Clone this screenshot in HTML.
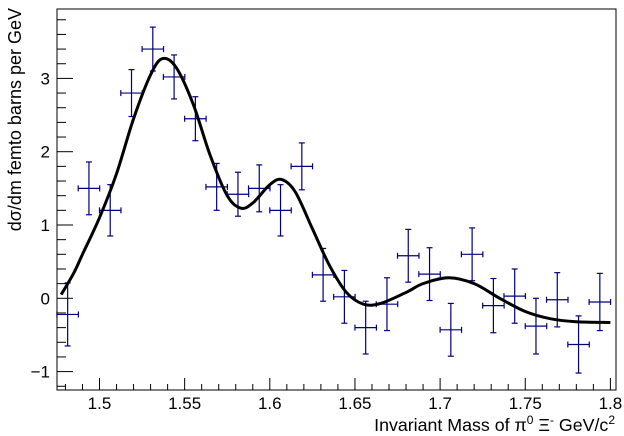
<!DOCTYPE html>
<html><head><meta charset="utf-8"><style>
html,body{margin:0;padding:0;background:#fff;width:624px;height:436px;overflow:hidden}
svg{display:block;font-family:"Liberation Sans",sans-serif}
</style></head><body>
<svg id="s" width="624" height="436" xmlns="http://www.w3.org/2000/svg">
<rect x="0" y="0" width="624" height="436" fill="#fff"/>
<g id="g"></g>
<rect x="57" y="9" width="559" height="381" fill="none" stroke="#000" stroke-width="1"/>
<text x="0" y="0" font-size="18" text-anchor="end" transform="translate(21,8) rotate(-90)">dσ/dm femto barns per GeV</text>
<text x="615" y="431" font-size="17.8" text-anchor="end">Invariant Mass of π<tspan dy="-7" font-size="12">0</tspan><tspan dy="7"> Ξ</tspan><tspan dy="-7" font-size="12">-</tspan><tspan dy="7"> GeV/c</tspan><tspan dy="-7" font-size="12">2</tspan></text>
</svg>
<script>
var g=document.getElementById('g');
function X(v){return 99.5+(v-1.5)*1703}
function Y(v){return 298.3-v*73.3}
var h='';
for(var i=0;i<=33;i++){var v=1.48+i*0.01;if(v>1.8035)break;var px=X(v);var maj=Math.abs((v*100)%5)<0.01||Math.abs((v*100)%5-5)<0.01;
h+='<line x1="'+px+'" y1="390" x2="'+px+'" y2="'+(maj?378:384)+'" stroke="#000"/>';
if(maj){h+='<text x="'+px+'" y="409" font-size="17" text-anchor="middle">'+(Math.round(v*100)/100)+'</text>';}}
for(var i=-6;i<=19;i++){var v=i*0.2;var py=Y(v);if(py<9||py>390)continue;var maj=(i%5==0);
h+='<line x1="57" y1="'+py+'" x2="'+(maj?73:66)+'" y2="'+py+'" stroke="#000"/>';
if(maj){h+='<text x="50" y="'+(py+6)+'" font-size="17" text-anchor="end">'+(i==-5?'\u22121':(i/5))+'</text>';}}
var d=[[1.4813,-0.22,0.43],[1.4938,1.5,0.36],[1.5063,1.2,0.35],[1.5188,2.8,0.32],[1.5313,3.4,0.3],[1.5438,3.02,0.3],[1.5563,2.45,0.3],[1.5688,1.52,0.32],[1.5813,1.42,0.3],[1.5938,1.5,0.32],[1.6063,1.2,0.35],[1.6188,1.8,0.32],[1.6313,0.32,0.36],[1.6438,0.02,0.36],[1.6563,-0.4,0.36],[1.6688,-0.08,0.36],[1.6813,0.58,0.36],[1.6938,0.33,0.36],[1.7063,-0.43,0.36],[1.7188,0.6,0.36],[1.7313,-0.1,0.37],[1.7438,0.03,0.37],[1.7563,-0.38,0.38],[1.7688,-0.02,0.37],[1.7813,-0.63,0.39],[1.7938,-0.05,0.39]];
d.forEach(function(p){var x=X(p[0]),y=Y(p[1]),xl=X(p[0]-0.0063),xr=Math.min(X(p[0]+0.0063),616),yt=Y(p[1]+p[2]),yb=Y(p[1]-p[2]);
h+='<g stroke="#000080" stroke-width="1.2"><line x1="'+xl+'" y1="'+y+'" x2="'+xr+'" y2="'+y+'"/><line x1="'+x+'" y1="'+yt+'" x2="'+x+'" y2="'+yb+'"/>'+
'<line x1="'+xl+'" y1="'+(y-3)+'" x2="'+xl+'" y2="'+(y+3)+'"/>'+(xr<616?'<line x1="'+xr+'" y1="'+(y-3)+'" x2="'+xr+'" y2="'+(y+3)+'"/>':'')+
'<line x1="'+(x-3)+'" y1="'+yt+'" x2="'+(x+3)+'" y2="'+yt+'"/><line x1="'+(x-3)+'" y1="'+yb+'" x2="'+(x+3)+'" y2="'+yb+'"/></g>';});
var c=[[1.4775,0.05],[1.485,0.35],[1.49,0.6],[1.5,1.1],[1.51,1.7],[1.52,2.45],[1.53,3.05],[1.537,3.27],[1.545,3.15],[1.555,2.65],[1.565,1.95],[1.575,1.4],[1.583,1.23],[1.59,1.3],[1.6,1.55],[1.607,1.62],[1.615,1.45],[1.625,0.95],[1.635,0.45],[1.645,0.08],[1.655,-0.08],[1.665,-0.07],[1.68,0.08],[1.69,0.2],[1.705,0.28],[1.72,0.2],[1.735,0.0],[1.75,-0.18],[1.765,-0.28],[1.78,-0.32],[1.8,-0.33]];
var P=c.map(function(p){return [X(p[0]),Y(p[1])]});
var s='M'+P[0][0]+','+P[0][1];
for(var i=0;i<P.length-1;i++){var p0=P[Math.max(0,i-1)],p1=P[i],p2=P[i+1],p3=P[Math.min(P.length-1,i+2)];
s+=' C'+(p1[0]+(p2[0]-p0[0])/6)+','+(p1[1]+(p2[1]-p0[1])/6)+' '+(p2[0]-(p3[0]-p1[0])/6)+','+(p2[1]-(p3[1]-p1[1])/6)+' '+p2[0]+','+p2[1];}
h+='<path d="'+s+'" fill="none" stroke="#000" stroke-width="3"/>';
g.innerHTML=h;
</script>
</body></html>
